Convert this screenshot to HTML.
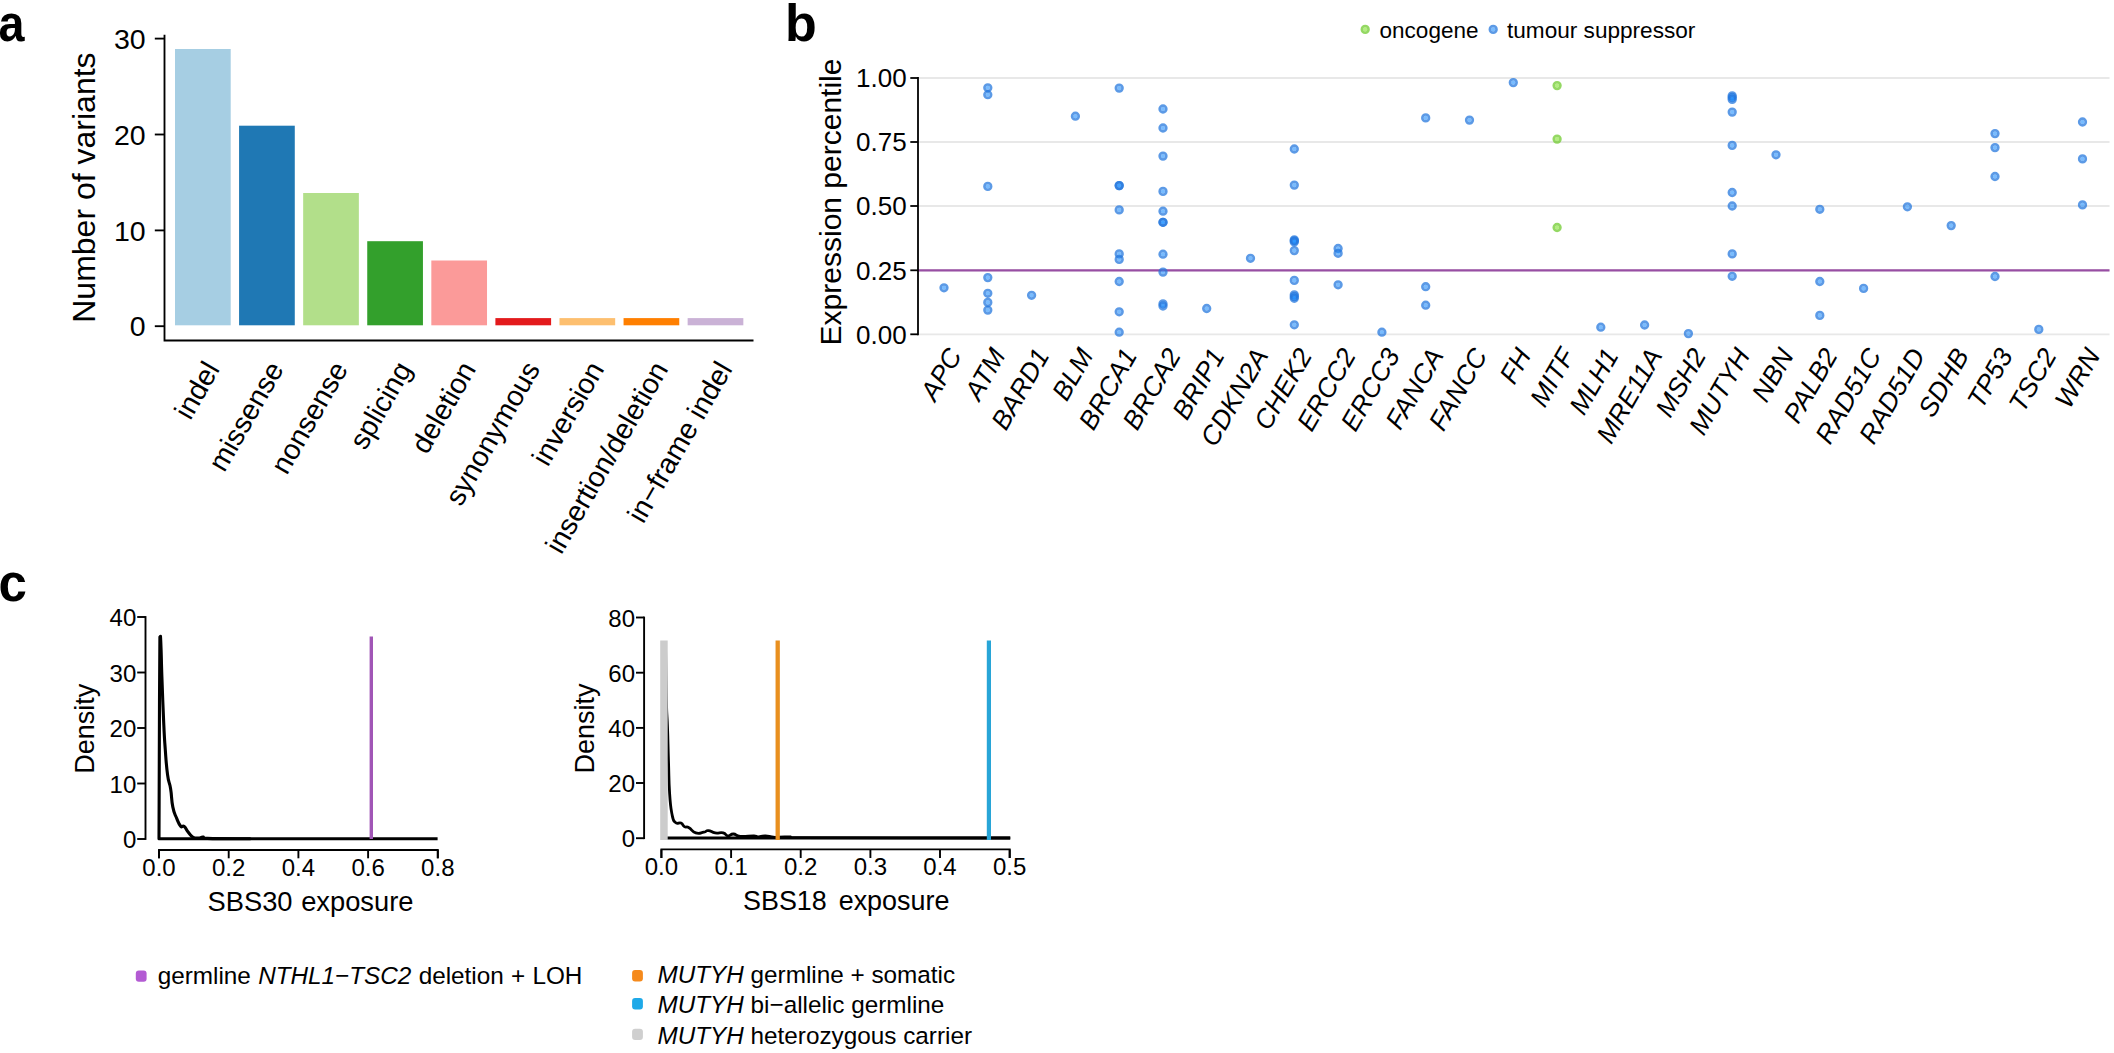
<!DOCTYPE html>
<html lang="en"><head><meta charset="utf-8"><title>Figure</title>
<style>html,body{margin:0;padding:0;background:#fff;}body{width:2114px;height:1053px;overflow:hidden;}svg{display:block;}text{font-family:"Liberation Sans", sans-serif;fill:#000;}</style>
</head><body>
<svg width="2114" height="1053" viewBox="0 0 2114 1053">
<rect x="0" y="0" width="2114" height="1053" fill="#ffffff"/>
<g id="panel-a">
<text transform="translate(-1.5,40.5) scale(0.89,1)" font-size="52.5" font-weight="bold">a</text>
<rect x="175.00" y="49.00" width="55.70" height="276.30" fill="#A6CEE3"/>
<rect x="239.08" y="125.70" width="55.70" height="199.60" fill="#1F78B4"/>
<rect x="303.16" y="193.00" width="55.70" height="132.30" fill="#B2DF8A"/>
<rect x="367.24" y="241.20" width="55.70" height="84.10" fill="#33A02C"/>
<rect x="431.32" y="260.50" width="55.70" height="64.80" fill="#FB9A99"/>
<rect x="495.40" y="318.10" width="55.70" height="7.20" fill="#E31A1C"/>
<rect x="559.48" y="318.10" width="55.70" height="7.20" fill="#FDBF6F"/>
<rect x="623.56" y="318.10" width="55.70" height="7.20" fill="#FF7F00"/>
<rect x="687.64" y="318.10" width="55.70" height="7.20" fill="#CAB2D6"/>
<path d="M164.5 34.8V340.5H753.5" fill="none" stroke="#000" stroke-width="1.85"/>
<path d="M154.8 38.6H164.5" stroke="#000" stroke-width="1.85"/>
<text x="145.6" y="48.7" font-size="28.5" text-anchor="end">30</text>
<path d="M154.8 134.5H164.5" stroke="#000" stroke-width="1.85"/>
<text x="145.6" y="144.6" font-size="28.5" text-anchor="end">20</text>
<path d="M154.8 230.4H164.5" stroke="#000" stroke-width="1.85"/>
<text x="145.6" y="240.5" font-size="28.5" text-anchor="end">10</text>
<path d="M154.8 326.2H164.5" stroke="#000" stroke-width="1.85"/>
<text x="145.6" y="336.3" font-size="28.5" text-anchor="end">0</text>
<text transform="translate(94.6,187.6) rotate(-90)" font-size="32" text-anchor="middle">Number of variants</text>
<text transform="translate(220.4,369.0) rotate(-60)" font-size="28.5" text-anchor="end">indel</text>
<text transform="translate(284.5,369.0) rotate(-60)" font-size="28.5" text-anchor="end">missense</text>
<text transform="translate(348.6,369.0) rotate(-60)" font-size="28.5" text-anchor="end">nonsense</text>
<text transform="translate(412.7,369.0) rotate(-60)" font-size="28.5" text-anchor="end">splicing</text>
<text transform="translate(476.8,369.0) rotate(-60)" font-size="28.5" text-anchor="end">deletion</text>
<text transform="translate(540.9,369.0) rotate(-60)" font-size="28.5" text-anchor="end">synonymous</text>
<text transform="translate(604.9,369.0) rotate(-60)" font-size="28.5" text-anchor="end">inversion</text>
<text transform="translate(669.0,369.0) rotate(-60)" font-size="28.5" text-anchor="end">insertion/deletion</text>
<text transform="translate(733.1,369.0) rotate(-60)" font-size="28.5" text-anchor="end">in−frame indel</text>
</g>
<g id="panel-b">
<text x="785.0" y="40.7" font-size="52" font-weight="bold">b</text>
<text x="1379.6" y="38.0" font-size="22.5">oncogene</text>
<text x="1507" y="38.0" font-size="22.6">tumour suppressor</text>
<path d="M918 78.0H2109.5" stroke="#e8e8e8" stroke-width="1.8"/>
<path d="M918 142.0H2109.5" stroke="#e8e8e8" stroke-width="1.8"/>
<path d="M918 206.0H2109.5" stroke="#e8e8e8" stroke-width="1.8"/>
<path d="M918 270.3H2109.5" stroke="#e8e8e8" stroke-width="1.8"/>
<path d="M918 334.3H2109.5" stroke="#e8e8e8" stroke-width="1.8"/>
<path d="M918 270.3H2109.5" stroke="#984ea3" stroke-width="2.2"/>
<path d="M918 77.1V335.2" stroke="#000" stroke-width="1.8"/>
<path d="M910.3 78.0H918" stroke="#000" stroke-width="1.8"/>
<text x="906.6" y="87.3" font-size="26" text-anchor="end">1.00</text>
<path d="M910.3 142.0H918" stroke="#000" stroke-width="1.8"/>
<text x="906.6" y="151.3" font-size="26" text-anchor="end">0.75</text>
<path d="M910.3 206.0H918" stroke="#000" stroke-width="1.8"/>
<text x="906.6" y="215.3" font-size="26" text-anchor="end">0.50</text>
<path d="M910.3 270.3H918" stroke="#000" stroke-width="1.8"/>
<text x="906.6" y="279.6" font-size="26" text-anchor="end">0.25</text>
<path d="M910.3 334.3H918" stroke="#000" stroke-width="1.8"/>
<text x="906.6" y="343.6" font-size="26" text-anchor="end">0.00</text>
<text transform="translate(841.2,202) rotate(-90)" font-size="30" text-anchor="middle">Expression percentile</text>
<circle cx="944.0" cy="287.8" r="2.05" fill="#1e90ff" fill-opacity="0.6"/><circle cx="944.0" cy="287.8" r="3.35" fill="none" stroke="#2377dd" stroke-opacity="0.74" stroke-width="2.6"/>
<circle cx="987.8" cy="87.8" r="2.05" fill="#1e90ff" fill-opacity="0.6"/><circle cx="987.8" cy="87.8" r="3.35" fill="none" stroke="#2377dd" stroke-opacity="0.74" stroke-width="2.6"/>
<circle cx="987.8" cy="94.7" r="2.05" fill="#1e90ff" fill-opacity="0.6"/><circle cx="987.8" cy="94.7" r="3.35" fill="none" stroke="#2377dd" stroke-opacity="0.74" stroke-width="2.6"/>
<circle cx="987.8" cy="186.4" r="2.05" fill="#1e90ff" fill-opacity="0.6"/><circle cx="987.8" cy="186.4" r="3.35" fill="none" stroke="#2377dd" stroke-opacity="0.74" stroke-width="2.6"/>
<circle cx="987.8" cy="277.6" r="2.05" fill="#1e90ff" fill-opacity="0.6"/><circle cx="987.8" cy="277.6" r="3.35" fill="none" stroke="#2377dd" stroke-opacity="0.74" stroke-width="2.6"/>
<circle cx="987.8" cy="293.3" r="2.05" fill="#1e90ff" fill-opacity="0.6"/><circle cx="987.8" cy="293.3" r="3.35" fill="none" stroke="#2377dd" stroke-opacity="0.74" stroke-width="2.6"/>
<circle cx="987.8" cy="302.4" r="2.05" fill="#1e90ff" fill-opacity="0.6"/><circle cx="987.8" cy="302.4" r="3.35" fill="none" stroke="#2377dd" stroke-opacity="0.74" stroke-width="2.6"/>
<circle cx="987.8" cy="310.1" r="2.05" fill="#1e90ff" fill-opacity="0.6"/><circle cx="987.8" cy="310.1" r="3.35" fill="none" stroke="#2377dd" stroke-opacity="0.74" stroke-width="2.6"/>
<circle cx="1031.6" cy="295.3" r="2.05" fill="#1e90ff" fill-opacity="0.6"/><circle cx="1031.6" cy="295.3" r="3.35" fill="none" stroke="#2377dd" stroke-opacity="0.74" stroke-width="2.6"/>
<circle cx="1075.4" cy="116.2" r="2.05" fill="#1e90ff" fill-opacity="0.6"/><circle cx="1075.4" cy="116.2" r="3.35" fill="none" stroke="#2377dd" stroke-opacity="0.74" stroke-width="2.6"/>
<circle cx="1119.2" cy="88.1" r="2.05" fill="#1e90ff" fill-opacity="0.6"/><circle cx="1119.2" cy="88.1" r="3.35" fill="none" stroke="#2377dd" stroke-opacity="0.74" stroke-width="2.6"/>
<circle cx="1119.2" cy="185.6" r="2.05" fill="#1e90ff" fill-opacity="0.6"/><circle cx="1119.2" cy="185.6" r="3.35" fill="none" stroke="#2377dd" stroke-opacity="0.74" stroke-width="2.6"/>
<circle cx="1119.2" cy="185.6" r="2.05" fill="#1e90ff" fill-opacity="0.6"/><circle cx="1119.2" cy="185.6" r="3.35" fill="none" stroke="#2377dd" stroke-opacity="0.74" stroke-width="2.6"/>
<circle cx="1119.2" cy="209.9" r="2.05" fill="#1e90ff" fill-opacity="0.6"/><circle cx="1119.2" cy="209.9" r="3.35" fill="none" stroke="#2377dd" stroke-opacity="0.74" stroke-width="2.6"/>
<circle cx="1119.2" cy="253.9" r="2.05" fill="#1e90ff" fill-opacity="0.6"/><circle cx="1119.2" cy="253.9" r="3.35" fill="none" stroke="#2377dd" stroke-opacity="0.74" stroke-width="2.6"/>
<circle cx="1119.2" cy="259.4" r="2.05" fill="#1e90ff" fill-opacity="0.6"/><circle cx="1119.2" cy="259.4" r="3.35" fill="none" stroke="#2377dd" stroke-opacity="0.74" stroke-width="2.6"/>
<circle cx="1119.2" cy="281.5" r="2.05" fill="#1e90ff" fill-opacity="0.6"/><circle cx="1119.2" cy="281.5" r="3.35" fill="none" stroke="#2377dd" stroke-opacity="0.74" stroke-width="2.6"/>
<circle cx="1119.2" cy="311.8" r="2.05" fill="#1e90ff" fill-opacity="0.6"/><circle cx="1119.2" cy="311.8" r="3.35" fill="none" stroke="#2377dd" stroke-opacity="0.74" stroke-width="2.6"/>
<circle cx="1119.2" cy="332.2" r="2.05" fill="#1e90ff" fill-opacity="0.6"/><circle cx="1119.2" cy="332.2" r="3.35" fill="none" stroke="#2377dd" stroke-opacity="0.74" stroke-width="2.6"/>
<circle cx="1163.0" cy="109.0" r="2.05" fill="#1e90ff" fill-opacity="0.6"/><circle cx="1163.0" cy="109.0" r="3.35" fill="none" stroke="#2377dd" stroke-opacity="0.74" stroke-width="2.6"/>
<circle cx="1163.0" cy="128.0" r="2.05" fill="#1e90ff" fill-opacity="0.6"/><circle cx="1163.0" cy="128.0" r="3.35" fill="none" stroke="#2377dd" stroke-opacity="0.74" stroke-width="2.6"/>
<circle cx="1163.0" cy="156.1" r="2.05" fill="#1e90ff" fill-opacity="0.6"/><circle cx="1163.0" cy="156.1" r="3.35" fill="none" stroke="#2377dd" stroke-opacity="0.74" stroke-width="2.6"/>
<circle cx="1163.0" cy="191.4" r="2.05" fill="#1e90ff" fill-opacity="0.6"/><circle cx="1163.0" cy="191.4" r="3.35" fill="none" stroke="#2377dd" stroke-opacity="0.74" stroke-width="2.6"/>
<circle cx="1163.0" cy="211.2" r="2.05" fill="#1e90ff" fill-opacity="0.6"/><circle cx="1163.0" cy="211.2" r="3.35" fill="none" stroke="#2377dd" stroke-opacity="0.74" stroke-width="2.6"/>
<circle cx="1163.0" cy="222.3" r="2.05" fill="#1e90ff" fill-opacity="0.6"/><circle cx="1163.0" cy="222.3" r="3.35" fill="none" stroke="#2377dd" stroke-opacity="0.74" stroke-width="2.6"/>
<circle cx="1163.0" cy="222.3" r="2.05" fill="#1e90ff" fill-opacity="0.6"/><circle cx="1163.0" cy="222.3" r="3.35" fill="none" stroke="#2377dd" stroke-opacity="0.74" stroke-width="2.6"/>
<circle cx="1163.0" cy="254.2" r="2.05" fill="#1e90ff" fill-opacity="0.6"/><circle cx="1163.0" cy="254.2" r="3.35" fill="none" stroke="#2377dd" stroke-opacity="0.74" stroke-width="2.6"/>
<circle cx="1163.0" cy="272.1" r="2.05" fill="#1e90ff" fill-opacity="0.6"/><circle cx="1163.0" cy="272.1" r="3.35" fill="none" stroke="#2377dd" stroke-opacity="0.74" stroke-width="2.6"/>
<circle cx="1163.0" cy="303.8" r="2.05" fill="#1e90ff" fill-opacity="0.6"/><circle cx="1163.0" cy="303.8" r="3.35" fill="none" stroke="#2377dd" stroke-opacity="0.74" stroke-width="2.6"/>
<circle cx="1163.0" cy="306.0" r="2.05" fill="#1e90ff" fill-opacity="0.6"/><circle cx="1163.0" cy="306.0" r="3.35" fill="none" stroke="#2377dd" stroke-opacity="0.74" stroke-width="2.6"/>
<circle cx="1206.7" cy="308.5" r="2.05" fill="#1e90ff" fill-opacity="0.6"/><circle cx="1206.7" cy="308.5" r="3.35" fill="none" stroke="#2377dd" stroke-opacity="0.74" stroke-width="2.6"/>
<circle cx="1250.5" cy="258.3" r="2.05" fill="#1e90ff" fill-opacity="0.6"/><circle cx="1250.5" cy="258.3" r="3.35" fill="none" stroke="#2377dd" stroke-opacity="0.74" stroke-width="2.6"/>
<circle cx="1294.3" cy="149.0" r="2.05" fill="#1e90ff" fill-opacity="0.6"/><circle cx="1294.3" cy="149.0" r="3.35" fill="none" stroke="#2377dd" stroke-opacity="0.74" stroke-width="2.6"/>
<circle cx="1294.3" cy="185.1" r="2.05" fill="#1e90ff" fill-opacity="0.6"/><circle cx="1294.3" cy="185.1" r="3.35" fill="none" stroke="#2377dd" stroke-opacity="0.74" stroke-width="2.6"/>
<circle cx="1294.3" cy="239.8" r="2.05" fill="#1e90ff" fill-opacity="0.6"/><circle cx="1294.3" cy="239.8" r="3.35" fill="none" stroke="#2377dd" stroke-opacity="0.74" stroke-width="2.6"/>
<circle cx="1294.3" cy="240.8" r="2.05" fill="#1e90ff" fill-opacity="0.6"/><circle cx="1294.3" cy="240.8" r="3.35" fill="none" stroke="#2377dd" stroke-opacity="0.74" stroke-width="2.6"/>
<circle cx="1294.3" cy="241.9" r="2.05" fill="#1e90ff" fill-opacity="0.6"/><circle cx="1294.3" cy="241.9" r="3.35" fill="none" stroke="#2377dd" stroke-opacity="0.74" stroke-width="2.6"/>
<circle cx="1294.3" cy="250.6" r="2.05" fill="#1e90ff" fill-opacity="0.6"/><circle cx="1294.3" cy="250.6" r="3.35" fill="none" stroke="#2377dd" stroke-opacity="0.74" stroke-width="2.6"/>
<circle cx="1294.3" cy="280.4" r="2.05" fill="#1e90ff" fill-opacity="0.6"/><circle cx="1294.3" cy="280.4" r="3.35" fill="none" stroke="#2377dd" stroke-opacity="0.74" stroke-width="2.6"/>
<circle cx="1294.3" cy="294.8" r="2.05" fill="#1e90ff" fill-opacity="0.6"/><circle cx="1294.3" cy="294.8" r="3.35" fill="none" stroke="#2377dd" stroke-opacity="0.74" stroke-width="2.6"/>
<circle cx="1294.3" cy="296.6" r="2.05" fill="#1e90ff" fill-opacity="0.6"/><circle cx="1294.3" cy="296.6" r="3.35" fill="none" stroke="#2377dd" stroke-opacity="0.74" stroke-width="2.6"/>
<circle cx="1294.3" cy="298.3" r="2.05" fill="#1e90ff" fill-opacity="0.6"/><circle cx="1294.3" cy="298.3" r="3.35" fill="none" stroke="#2377dd" stroke-opacity="0.74" stroke-width="2.6"/>
<circle cx="1294.3" cy="324.8" r="2.05" fill="#1e90ff" fill-opacity="0.6"/><circle cx="1294.3" cy="324.8" r="3.35" fill="none" stroke="#2377dd" stroke-opacity="0.74" stroke-width="2.6"/>
<circle cx="1338.1" cy="248.5" r="2.05" fill="#1e90ff" fill-opacity="0.6"/><circle cx="1338.1" cy="248.5" r="3.35" fill="none" stroke="#2377dd" stroke-opacity="0.74" stroke-width="2.6"/>
<circle cx="1338.1" cy="253.3" r="2.05" fill="#1e90ff" fill-opacity="0.6"/><circle cx="1338.1" cy="253.3" r="3.35" fill="none" stroke="#2377dd" stroke-opacity="0.74" stroke-width="2.6"/>
<circle cx="1338.1" cy="284.8" r="2.05" fill="#1e90ff" fill-opacity="0.6"/><circle cx="1338.1" cy="284.8" r="3.35" fill="none" stroke="#2377dd" stroke-opacity="0.74" stroke-width="2.6"/>
<circle cx="1381.9" cy="332.2" r="2.05" fill="#1e90ff" fill-opacity="0.6"/><circle cx="1381.9" cy="332.2" r="3.35" fill="none" stroke="#2377dd" stroke-opacity="0.74" stroke-width="2.6"/>
<circle cx="1425.7" cy="117.9" r="2.05" fill="#1e90ff" fill-opacity="0.6"/><circle cx="1425.7" cy="117.9" r="3.35" fill="none" stroke="#2377dd" stroke-opacity="0.74" stroke-width="2.6"/>
<circle cx="1425.7" cy="286.7" r="2.05" fill="#1e90ff" fill-opacity="0.6"/><circle cx="1425.7" cy="286.7" r="3.35" fill="none" stroke="#2377dd" stroke-opacity="0.74" stroke-width="2.6"/>
<circle cx="1425.7" cy="305.2" r="2.05" fill="#1e90ff" fill-opacity="0.6"/><circle cx="1425.7" cy="305.2" r="3.35" fill="none" stroke="#2377dd" stroke-opacity="0.74" stroke-width="2.6"/>
<circle cx="1469.5" cy="120.1" r="2.05" fill="#1e90ff" fill-opacity="0.6"/><circle cx="1469.5" cy="120.1" r="3.35" fill="none" stroke="#2377dd" stroke-opacity="0.74" stroke-width="2.6"/>
<circle cx="1513.3" cy="82.6" r="2.05" fill="#1e90ff" fill-opacity="0.6"/><circle cx="1513.3" cy="82.6" r="3.35" fill="none" stroke="#2377dd" stroke-opacity="0.74" stroke-width="2.6"/>
<circle cx="1557.1" cy="85.6" r="2.05" fill="#7fe32a" fill-opacity="0.6"/><circle cx="1557.1" cy="85.6" r="3.35" fill="none" stroke="#6fcb2c" stroke-opacity="0.74" stroke-width="2.6"/>
<circle cx="1557.1" cy="139.1" r="2.05" fill="#7fe32a" fill-opacity="0.6"/><circle cx="1557.1" cy="139.1" r="3.35" fill="none" stroke="#6fcb2c" stroke-opacity="0.74" stroke-width="2.6"/>
<circle cx="1557.1" cy="227.5" r="2.05" fill="#7fe32a" fill-opacity="0.6"/><circle cx="1557.1" cy="227.5" r="3.35" fill="none" stroke="#6fcb2c" stroke-opacity="0.74" stroke-width="2.6"/>
<circle cx="1600.8" cy="327.2" r="2.05" fill="#1e90ff" fill-opacity="0.6"/><circle cx="1600.8" cy="327.2" r="3.35" fill="none" stroke="#2377dd" stroke-opacity="0.74" stroke-width="2.6"/>
<circle cx="1644.6" cy="325.0" r="2.05" fill="#1e90ff" fill-opacity="0.6"/><circle cx="1644.6" cy="325.0" r="3.35" fill="none" stroke="#2377dd" stroke-opacity="0.74" stroke-width="2.6"/>
<circle cx="1688.4" cy="333.6" r="2.05" fill="#1e90ff" fill-opacity="0.6"/><circle cx="1688.4" cy="333.6" r="3.35" fill="none" stroke="#2377dd" stroke-opacity="0.74" stroke-width="2.6"/>
<circle cx="1732.2" cy="95.8" r="2.05" fill="#1e90ff" fill-opacity="0.6"/><circle cx="1732.2" cy="95.8" r="3.35" fill="none" stroke="#2377dd" stroke-opacity="0.74" stroke-width="2.6"/>
<circle cx="1732.2" cy="97.5" r="2.05" fill="#1e90ff" fill-opacity="0.6"/><circle cx="1732.2" cy="97.5" r="3.35" fill="none" stroke="#2377dd" stroke-opacity="0.74" stroke-width="2.6"/>
<circle cx="1732.2" cy="99.4" r="2.05" fill="#1e90ff" fill-opacity="0.6"/><circle cx="1732.2" cy="99.4" r="3.35" fill="none" stroke="#2377dd" stroke-opacity="0.74" stroke-width="2.6"/>
<circle cx="1732.2" cy="112.1" r="2.05" fill="#1e90ff" fill-opacity="0.6"/><circle cx="1732.2" cy="112.1" r="3.35" fill="none" stroke="#2377dd" stroke-opacity="0.74" stroke-width="2.6"/>
<circle cx="1732.2" cy="145.4" r="2.05" fill="#1e90ff" fill-opacity="0.6"/><circle cx="1732.2" cy="145.4" r="3.35" fill="none" stroke="#2377dd" stroke-opacity="0.74" stroke-width="2.6"/>
<circle cx="1732.2" cy="192.5" r="2.05" fill="#1e90ff" fill-opacity="0.6"/><circle cx="1732.2" cy="192.5" r="3.35" fill="none" stroke="#2377dd" stroke-opacity="0.74" stroke-width="2.6"/>
<circle cx="1732.2" cy="206.0" r="2.05" fill="#1e90ff" fill-opacity="0.6"/><circle cx="1732.2" cy="206.0" r="3.35" fill="none" stroke="#2377dd" stroke-opacity="0.74" stroke-width="2.6"/>
<circle cx="1732.2" cy="253.9" r="2.05" fill="#1e90ff" fill-opacity="0.6"/><circle cx="1732.2" cy="253.9" r="3.35" fill="none" stroke="#2377dd" stroke-opacity="0.74" stroke-width="2.6"/>
<circle cx="1732.2" cy="276.3" r="2.05" fill="#1e90ff" fill-opacity="0.6"/><circle cx="1732.2" cy="276.3" r="3.35" fill="none" stroke="#2377dd" stroke-opacity="0.74" stroke-width="2.6"/>
<circle cx="1776.0" cy="154.8" r="2.05" fill="#1e90ff" fill-opacity="0.6"/><circle cx="1776.0" cy="154.8" r="3.35" fill="none" stroke="#2377dd" stroke-opacity="0.74" stroke-width="2.6"/>
<circle cx="1819.8" cy="209.3" r="2.05" fill="#1e90ff" fill-opacity="0.6"/><circle cx="1819.8" cy="209.3" r="3.35" fill="none" stroke="#2377dd" stroke-opacity="0.74" stroke-width="2.6"/>
<circle cx="1819.8" cy="281.5" r="2.05" fill="#1e90ff" fill-opacity="0.6"/><circle cx="1819.8" cy="281.5" r="3.35" fill="none" stroke="#2377dd" stroke-opacity="0.74" stroke-width="2.6"/>
<circle cx="1819.8" cy="315.4" r="2.05" fill="#1e90ff" fill-opacity="0.6"/><circle cx="1819.8" cy="315.4" r="3.35" fill="none" stroke="#2377dd" stroke-opacity="0.74" stroke-width="2.6"/>
<circle cx="1863.6" cy="288.4" r="2.05" fill="#1e90ff" fill-opacity="0.6"/><circle cx="1863.6" cy="288.4" r="3.35" fill="none" stroke="#2377dd" stroke-opacity="0.74" stroke-width="2.6"/>
<circle cx="1907.4" cy="206.8" r="2.05" fill="#1e90ff" fill-opacity="0.6"/><circle cx="1907.4" cy="206.8" r="3.35" fill="none" stroke="#2377dd" stroke-opacity="0.74" stroke-width="2.6"/>
<circle cx="1951.2" cy="225.6" r="2.05" fill="#1e90ff" fill-opacity="0.6"/><circle cx="1951.2" cy="225.6" r="3.35" fill="none" stroke="#2377dd" stroke-opacity="0.74" stroke-width="2.6"/>
<circle cx="1995.0" cy="133.6" r="2.05" fill="#1e90ff" fill-opacity="0.6"/><circle cx="1995.0" cy="133.6" r="3.35" fill="none" stroke="#2377dd" stroke-opacity="0.74" stroke-width="2.6"/>
<circle cx="1995.0" cy="147.6" r="2.05" fill="#1e90ff" fill-opacity="0.6"/><circle cx="1995.0" cy="147.6" r="3.35" fill="none" stroke="#2377dd" stroke-opacity="0.74" stroke-width="2.6"/>
<circle cx="1995.0" cy="176.5" r="2.05" fill="#1e90ff" fill-opacity="0.6"/><circle cx="1995.0" cy="176.5" r="3.35" fill="none" stroke="#2377dd" stroke-opacity="0.74" stroke-width="2.6"/>
<circle cx="1995.0" cy="276.5" r="2.05" fill="#1e90ff" fill-opacity="0.6"/><circle cx="1995.0" cy="276.5" r="3.35" fill="none" stroke="#2377dd" stroke-opacity="0.74" stroke-width="2.6"/>
<circle cx="2038.8" cy="329.4" r="2.05" fill="#1e90ff" fill-opacity="0.6"/><circle cx="2038.8" cy="329.4" r="3.35" fill="none" stroke="#2377dd" stroke-opacity="0.74" stroke-width="2.6"/>
<circle cx="2082.5" cy="122.0" r="2.05" fill="#1e90ff" fill-opacity="0.6"/><circle cx="2082.5" cy="122.0" r="3.35" fill="none" stroke="#2377dd" stroke-opacity="0.74" stroke-width="2.6"/>
<circle cx="2082.5" cy="158.9" r="2.05" fill="#1e90ff" fill-opacity="0.6"/><circle cx="2082.5" cy="158.9" r="3.35" fill="none" stroke="#2377dd" stroke-opacity="0.74" stroke-width="2.6"/>
<circle cx="2082.5" cy="204.9" r="2.05" fill="#1e90ff" fill-opacity="0.6"/><circle cx="2082.5" cy="204.9" r="3.35" fill="none" stroke="#2377dd" stroke-opacity="0.74" stroke-width="2.6"/>
<circle cx="1365.2" cy="29.4" r="2.05" fill="#7fe32a" fill-opacity="0.6"/><circle cx="1365.2" cy="29.4" r="3.35" fill="none" stroke="#6fcb2c" stroke-opacity="0.74" stroke-width="2.6"/>
<circle cx="1493.2" cy="29.4" r="2.05" fill="#1e90ff" fill-opacity="0.6"/><circle cx="1493.2" cy="29.4" r="3.35" fill="none" stroke="#2377dd" stroke-opacity="0.74" stroke-width="2.6"/>
<text transform="translate(962.6,355.2) rotate(-60)" font-size="26.5" font-style="italic" text-anchor="end">APC</text>
<text transform="translate(1006.4,355.2) rotate(-60)" font-size="26.5" font-style="italic" text-anchor="end">ATM</text>
<text transform="translate(1050.2,355.2) rotate(-60)" font-size="26.5" font-style="italic" text-anchor="end">BARD1</text>
<text transform="translate(1094.0,355.2) rotate(-60)" font-size="26.5" font-style="italic" text-anchor="end">BLM</text>
<text transform="translate(1137.8,355.2) rotate(-60)" font-size="26.5" font-style="italic" text-anchor="end">BRCA1</text>
<text transform="translate(1181.5,355.2) rotate(-60)" font-size="26.5" font-style="italic" text-anchor="end">BRCA2</text>
<text transform="translate(1225.3,355.2) rotate(-60)" font-size="26.5" font-style="italic" text-anchor="end">BRIP1</text>
<text transform="translate(1269.1,355.2) rotate(-60)" font-size="26.5" font-style="italic" text-anchor="end">CDKN2A</text>
<text transform="translate(1312.9,355.2) rotate(-60)" font-size="26.5" font-style="italic" text-anchor="end">CHEK2</text>
<text transform="translate(1356.7,355.2) rotate(-60)" font-size="26.5" font-style="italic" text-anchor="end">ERCC2</text>
<text transform="translate(1400.5,355.2) rotate(-60)" font-size="26.5" font-style="italic" text-anchor="end">ERCC3</text>
<text transform="translate(1444.3,355.2) rotate(-60)" font-size="26.5" font-style="italic" text-anchor="end">FANCA</text>
<text transform="translate(1488.1,355.2) rotate(-60)" font-size="26.5" font-style="italic" text-anchor="end">FANCC</text>
<text transform="translate(1531.9,355.2) rotate(-60)" font-size="26.5" font-style="italic" text-anchor="end">FH</text>
<text transform="translate(1575.7,355.2) rotate(-60)" font-size="26.5" font-style="italic" text-anchor="end">MITF</text>
<text transform="translate(1619.4,355.2) rotate(-60)" font-size="26.5" font-style="italic" text-anchor="end">MLH1</text>
<text transform="translate(1663.2,355.2) rotate(-60)" font-size="26.5" font-style="italic" text-anchor="end">MRE11A</text>
<text transform="translate(1707.0,355.2) rotate(-60)" font-size="26.5" font-style="italic" text-anchor="end">MSH2</text>
<text transform="translate(1750.8,355.2) rotate(-60)" font-size="26.5" font-style="italic" text-anchor="end">MUTYH</text>
<text transform="translate(1794.6,355.2) rotate(-60)" font-size="26.5" font-style="italic" text-anchor="end">NBN</text>
<text transform="translate(1838.4,355.2) rotate(-60)" font-size="26.5" font-style="italic" text-anchor="end">PALB2</text>
<text transform="translate(1882.2,355.2) rotate(-60)" font-size="26.5" font-style="italic" text-anchor="end">RAD51C</text>
<text transform="translate(1926.0,355.2) rotate(-60)" font-size="26.5" font-style="italic" text-anchor="end">RAD51D</text>
<text transform="translate(1969.8,355.2) rotate(-60)" font-size="26.5" font-style="italic" text-anchor="end">SDHB</text>
<text transform="translate(2013.6,355.2) rotate(-60)" font-size="26.5" font-style="italic" text-anchor="end">TP53</text>
<text transform="translate(2057.3,355.2) rotate(-60)" font-size="26.5" font-style="italic" text-anchor="end">TSC2</text>
<text transform="translate(2101.1,355.2) rotate(-60)" font-size="26.5" font-style="italic" text-anchor="end">WRN</text>
</g>
<g id="panel-c">
<text x="-1.5" y="600.5" font-size="51" font-weight="bold">c</text>
<path d="M145.5 616.1V839.9" stroke="#000" stroke-width="1.9" fill="none"/>
<path d="M137.2 617.0H145.5" stroke="#000" stroke-width="1.9"/>
<text x="136.3" y="626.1" font-size="24" text-anchor="end">40</text>
<path d="M137.2 672.5H145.5" stroke="#000" stroke-width="1.9"/>
<text x="136.3" y="681.6" font-size="24" text-anchor="end">30</text>
<path d="M137.2 728.0H145.5" stroke="#000" stroke-width="1.9"/>
<text x="136.3" y="737.1" font-size="24" text-anchor="end">20</text>
<path d="M137.2 783.5H145.5" stroke="#000" stroke-width="1.9"/>
<text x="136.3" y="792.6" font-size="24" text-anchor="end">10</text>
<path d="M137.2 839.0H145.5" stroke="#000" stroke-width="1.9"/>
<text x="136.3" y="848.1" font-size="24" text-anchor="end">0</text>
<path d="M159 858.3V850H437.8V858.3" stroke="#000" stroke-width="1.9" fill="none"/>
<path d="M159.0 850V858.3" stroke="#000" stroke-width="1.9"/>
<text x="159.0" y="875.9" font-size="24" text-anchor="middle">0.0</text>
<path d="M228.7 850V858.3" stroke="#000" stroke-width="1.9"/>
<text x="228.7" y="875.9" font-size="24" text-anchor="middle">0.2</text>
<path d="M298.4 850V858.3" stroke="#000" stroke-width="1.9"/>
<text x="298.4" y="875.9" font-size="24" text-anchor="middle">0.4</text>
<path d="M368.1 850V858.3" stroke="#000" stroke-width="1.9"/>
<text x="368.1" y="875.9" font-size="24" text-anchor="middle">0.6</text>
<path d="M437.8 850V858.3" stroke="#000" stroke-width="1.9"/>
<text x="437.8" y="875.9" font-size="24" text-anchor="middle">0.8</text>
<text x="310.5" y="911" font-size="27.3" text-anchor="middle" word-spacing="1">SBS30 exposure</text>
<text transform="translate(93.7,728.7) rotate(-90)" font-size="27" text-anchor="middle">Density</text>
<path d="M437.6 838.8H159 L159.5 700 L159.9 637.1 L160.5 636.4" fill="none" stroke="#000" stroke-width="3.1" stroke-linejoin="round"/>
<path d="M160.5 636.4 C160.7 640.0 160.7 639.2 161.1 650.0 C161.5 660.8 161.2 657.6 161.9 677.0 C162.6 696.4 162.8 703.2 163.7 722.6 C164.6 742.0 164.3 735.9 165.3 749.9 C166.3 763.9 166.2 764.7 167.6 775.0 C169.0 785.3 169.2 780.2 170.6 788.7 C172.0 797.2 171.2 799.0 172.8 806.9 C174.4 814.8 174.6 813.2 176.7 818.3 C178.8 823.4 178.6 823.9 180.6 826.1 C182.6 828.3 182.2 824.9 184.2 826.5 C186.2 828.1 185.8 829.2 188.1 832.0 C190.4 834.8 190.0 835.4 192.7 837.0 C195.4 838.6 195.7 838.1 198.4 838.1 C201.1 838.1 200.6 836.9 203.0 837.0 C205.4 837.1 195.0 837.9 207.5 838.4 C220.0 838.9 238.7 838.7 250.0 838.8" fill="none" stroke="#000" stroke-width="3.1" stroke-linejoin="round" stroke-linecap="round"/>
<path d="M371.3 636.5V839" stroke="#a156b6" stroke-width="3.4"/>
<path d="M644.1 616.6V839.1" stroke="#000" stroke-width="1.9" fill="none"/>
<path d="M636 617.5H644.1" stroke="#000" stroke-width="1.9"/>
<text x="635" y="626.5" font-size="24" text-anchor="end">80</text>
<path d="M636 672.7H644.1" stroke="#000" stroke-width="1.9"/>
<text x="635" y="681.7" font-size="24" text-anchor="end">60</text>
<path d="M636 727.9H644.1" stroke="#000" stroke-width="1.9"/>
<text x="635" y="736.9" font-size="24" text-anchor="end">40</text>
<path d="M636 783.0H644.1" stroke="#000" stroke-width="1.9"/>
<text x="635" y="792.0" font-size="24" text-anchor="end">20</text>
<path d="M636 838.2H644.1" stroke="#000" stroke-width="1.9"/>
<text x="635" y="847.2" font-size="24" text-anchor="end">0</text>
<path d="M661.4 858.0V849.4H1009.7V858.0" stroke="#000" stroke-width="1.9" fill="none"/>
<path d="M661.4 849.4V858.0" stroke="#000" stroke-width="1.9"/>
<text x="661.4" y="875.2" font-size="24" text-anchor="middle">0.0</text>
<path d="M731.1 849.4V858.0" stroke="#000" stroke-width="1.9"/>
<text x="731.1" y="875.2" font-size="24" text-anchor="middle">0.1</text>
<path d="M800.7 849.4V858.0" stroke="#000" stroke-width="1.9"/>
<text x="800.7" y="875.2" font-size="24" text-anchor="middle">0.2</text>
<path d="M870.4 849.4V858.0" stroke="#000" stroke-width="1.9"/>
<text x="870.4" y="875.2" font-size="24" text-anchor="middle">0.3</text>
<path d="M940.0 849.4V858.0" stroke="#000" stroke-width="1.9"/>
<text x="940.0" y="875.2" font-size="24" text-anchor="middle">0.4</text>
<path d="M1009.7 849.4V858.0" stroke="#000" stroke-width="1.9"/>
<text x="1009.7" y="875.2" font-size="24" text-anchor="middle">0.5</text>
<text x="846.2" y="909.8" font-size="26.9" text-anchor="middle" word-spacing="4.5">SBS18 exposure</text>
<text transform="translate(593.5,728.4) rotate(-90)" font-size="27" text-anchor="middle">Density</text>
<path d="M665.6 650.0 C665.8 663.3 665.9 679.4 666.4 700.0 C666.9 720.6 666.9 710.8 667.5 727.1 C668.1 743.4 667.9 743.7 668.5 761.3 C669.1 778.9 668.7 779.2 669.6 793.2 C670.5 807.2 670.4 805.9 671.9 813.7 C673.4 821.5 672.9 819.9 675.3 822.4 C677.7 824.9 678.6 821.9 681.0 823.0 C683.4 824.1 682.3 825.3 684.4 826.6 C686.5 827.9 686.0 826.0 689.0 827.7 C692.0 829.4 691.9 831.7 695.8 832.9 C699.7 834.1 700.4 832.8 703.8 832.2 C707.2 831.6 705.4 830.4 708.4 830.6 C711.4 830.8 711.3 832.3 715.2 832.9 C719.1 833.5 719.9 832.1 723.2 832.9 C726.5 833.7 725.0 835.5 727.7 835.8 C730.4 836.1 730.0 833.9 733.4 834.0 C736.8 834.1 734.8 835.8 740.3 836.3 C745.8 836.8 749.1 835.7 754.0 835.8 C758.9 835.9 755.5 836.8 758.5 836.8 C761.5 836.8 761.0 835.7 765.4 835.8 C769.8 835.9 768.4 837.0 775.0 837.3 C781.6 837.6 783.3 836.7 790.0 836.8 C796.7 836.9 741.3 837.3 800.0 837.6 C858.7 837.9 954.0 837.9 1010.0 838.0" fill="none" stroke="#000" stroke-width="2.8" stroke-linejoin="round"/>
<path d="M664 838H1010.4" stroke="#000" stroke-width="3"/>
<rect x="660.2" y="640.5" width="7.5" height="199.5" fill="#cccccc"/>
<path d="M777.7 640.5V840" stroke="#e9901f" stroke-width="4.3"/>
<path d="M988.9 640.5V840" stroke="#28a5d7" stroke-width="4.2"/>
<rect x="135.8" y="970.6" width="10.8" height="11.2" rx="3" fill="#b35bd3"/>
<text x="157.7" y="984.0" font-size="24.3" word-spacing="0.5">germline <tspan font-style="italic">NTHL1−TSC2</tspan> deletion + LOH</text>
<rect x="632.1" y="970.1" width="10.8" height="11.4" rx="3" fill="#f58a1c"/>
<text x="657.4" y="982.7" font-size="24.3"><tspan font-style="italic">MUTYH</tspan> germline + somatic</text>
<rect x="632.1" y="998.0" width="10.8" height="11.4" rx="3" fill="#1ea9e8"/>
<text x="657.4" y="1013.0" font-size="24.3"><tspan font-style="italic">MUTYH</tspan> bi−allelic germline</text>
<rect x="632.1" y="1028.7" width="10.8" height="11.4" rx="3" fill="#cfcfcf"/>
<text x="657.4" y="1043.8" font-size="24.3"><tspan font-style="italic">MUTYH</tspan> heterozygous carrier</text>
</g>
</svg></body></html>
